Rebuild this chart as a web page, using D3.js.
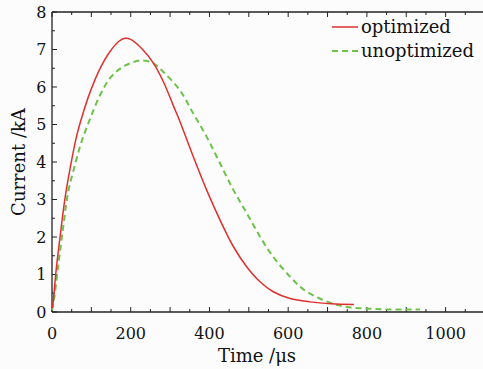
<!DOCTYPE html>
<html lang="en">
<head>
<meta charset="UTF-8">
<title>Current vs Time</title>
<script src="https://d3js.org/d3.v7.min.js"></script>
<style>
  html, body { margin: 0; padding: 0; background: #fcfcfc; }
  svg { display: block; overflow: hidden; }
  text { font-family: "DejaVu Serif", serif; fill: #111; }
</style>
</head>
<body>
<div class="chartContainer"></div>
<script>
// Data (time in µs, current in kA)
const optTime = [0, 2, 10, 20, 33, 46, 63, 80, 97, 122, 147, 170, 185, 200, 232, 258, 283, 308, 325, 359, 393, 427, 461, 495, 529, 562, 605, 656, 710, 767];
const optCurrent = [0.1, 0.18, 1.07, 1.96, 3.03, 3.83, 4.71, 5.34, 5.87, 6.49, 6.94, 7.22, 7.3, 7.27, 6.98, 6.63, 6.14, 5.51, 5.08, 4.14, 3.25, 2.45, 1.74, 1.2, 0.8, 0.54, 0.36, 0.27, 0.22, 0.2];

const unoptTime = [0, 3, 16, 29, 41, 58, 75, 97, 122, 147, 173, 198, 228, 258, 283, 325, 359, 393, 427, 461, 495, 529, 562, 605, 639, 680, 720, 760, 800, 850, 935];
const unoptCurrent = [0.05, 0.18, 1.25, 2.31, 3.2, 3.91, 4.54, 5.16, 5.78, 6.23, 6.49, 6.63, 6.71, 6.63, 6.4, 5.91, 5.29, 4.67, 3.96, 3.25, 2.63, 2.0, 1.47, 0.94, 0.6, 0.36, 0.2, 0.12, 0.09, 0.07, 0.07];

const xTickLabels = [0, 200, 400, 600, 800, 1000];
const yTickLabels = [0, 1, 2, 3, 4, 5, 6, 7, 8];
const seriesNames = ["optimized", "unoptimized"];

const width = 483, height = 369;
const margin = {top: 12, left: 52};
const plotW = 433, plotH = 300;

const svg = d3.select(".chartContainer").append("svg")
  .attr("width", width).attr("height", height);

svg.append("rect").attr("width", width).attr("height", height).attr("fill", "#fcfcfc");

const x = d3.scaleLinear().domain([0, 1100]).range([margin.left, margin.left + plotW]);
const y = d3.scaleLinear().domain([0, 8]).range([margin.top + plotH, margin.top]);

const axisColor = "#222";
const g = svg.append("g");

// frame lines (left, bottom, top)
g.append("line").attr("x1", x(0)).attr("x2", x(1100)).attr("y1", y(0)).attr("y2", y(0))
  .attr("stroke", axisColor).attr("stroke-width", 1.3);
g.append("line").attr("x1", x(0)).attr("x2", x(1100)).attr("y1", y(8)).attr("y2", y(8))
  .attr("stroke", axisColor).attr("stroke-width", 1.3);
g.append("line").attr("x1", x(0)).attr("x2", x(0)).attr("y1", y(0)).attr("y2", y(8))
  .attr("stroke", axisColor).attr("stroke-width", 1.3);

// inward ticks
const xMinor = d3.range(0, 1101, 50);
xMinor.forEach(t => {
  const len = t % 100 === 0 ? 5 : 3;
  g.append("line").attr("x1", x(t)).attr("x2", x(t)).attr("y1", y(0)).attr("y2", y(0) - len)
    .attr("stroke", axisColor).attr("stroke-width", 1);
  g.append("line").attr("x1", x(t)).attr("x2", x(t)).attr("y1", y(8)).attr("y2", y(8) + len)
    .attr("stroke", axisColor).attr("stroke-width", 1);
});
const yMinor = d3.range(0, 8.01, 0.5);
yMinor.forEach(v => {
  const len = v % 1 === 0 ? 5 : 3;
  g.append("line").attr("x1", x(0)).attr("x2", x(0) + len).attr("y1", y(v)).attr("y2", y(v))
    .attr("stroke", axisColor).attr("stroke-width", 1);
});

// tick labels
svg.selectAll(".xlab").data(xTickLabels).enter().append("text")
  .attr("x", d => x(d)).attr("y", 339)
  .attr("text-anchor", "middle").style("font-size", "16px")
  .text(d => d);
svg.selectAll(".ylab").data(yTickLabels).enter().append("text")
  .attr("x", 46.5).attr("y", d => y(d)).attr("dy", "0.36em")
  .attr("text-anchor", "end").style("font-size", "16px")
  .text(d => d);

// axis titles
svg.append("text").attr("x", 257).attr("y", 362).attr("text-anchor", "middle")
  .style("font-size", "18px").text("Time /\u03bcs");
svg.append("text").attr("transform", `translate(25,${y(4)}) rotate(-90)`)
  .attr("text-anchor", "middle").style("font-size", "18px").text("Current /kA");

// lines
const line = d3.line().x(d => x(d[0])).y(d => y(d[1])).curve(d3.curveCatmullRom.alpha(0.5));
const optData = optTime.map((t, i) => [t, optCurrent[i]]);
const unoptData = unoptTime.map((t, i) => [t, unoptCurrent[i]]);

svg.append("path").datum(unoptData).attr("d", line)
  .attr("fill", "none").attr("stroke", "#6cc24a").attr("stroke-width", 2)
  .attr("stroke-dasharray", "6,4");
svg.append("path").datum(optData).attr("d", line)
  .attr("fill", "none").attr("stroke", "#e0302e").attr("stroke-width", 1.5);

// legend
const legend = svg.append("g");
const legY = [27, 51];
const legStyles = [
  {color: "#e0302e", dash: null, w: 1.5},
  {color: "#6cc24a", dash: "6,4", w: 2}
];
seriesNames.forEach((name, i) => {
  legend.append("line").attr("x1", 332).attr("x2", 358).attr("y1", legY[i]).attr("y2", legY[i])
    .attr("stroke", legStyles[i].color).attr("stroke-width", legStyles[i].w)
    .attr("stroke-dasharray", legStyles[i].dash);
  legend.append("text").attr("x", 361).attr("y", legY[i] + 5.5)
    .style("font-size", "18px").text(name);
});
</script>
</body>
</html>
